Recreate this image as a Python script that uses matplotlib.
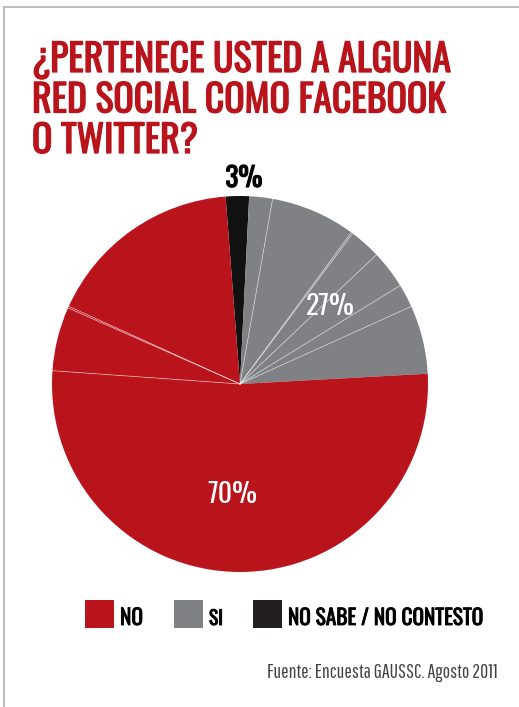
import matplotlib
matplotlib.use("Agg")
import matplotlib.pyplot as plt
import matplotlib.patheffects as pe
from matplotlib.patches import Rectangle
import numpy as np

# sub-slices, clockwise from the top (percent of the whole pie)
ns_parts = [2.0]
si_parts = [2.0, 7.3, 0.15, 2.7, 3.3, 2.0, 5.9]
no_parts = [52.0, 5.5, 0.15, 17.0]

legend_labels = ["NO", "SI", "NO SABE / NO CONTESTO"]
pct_labels = ["70%", "27%", "3%"]
title_lines = ["¿PERTENECE USTED A ALGUNA", "RED SOCIAL COMO FACEBOOK", "O TWITTER?"]
source = "Fuente: Encuesta GAUSSC. Agosto 2011"

RED = "#b9141c"
GRAY = "#808184"
BLACK = "#111111"

COND = ["Oswald", "Antonio", "Barlow Condensed", "DejaVu Sans"]
LIGHT = ["Pathway Gothic One", "Barlow Condensed", "DejaVu Sans"]

W, H = 519, 707
fig = plt.figure(figsize=(W / 100, H / 100), dpi=100)
fig.patch.set_facecolor("white")
renderer = fig.canvas.get_renderer()

# pie
cx, cy, r = 240, 384, 188
pax = fig.add_axes([(cx - r) / W, (H - cy - r) / H, 2 * r / W, 2 * r / H])
values = ns_parts + si_parts + no_parts
colors = [BLACK] * len(ns_parts) + [GRAY] * len(si_parts) + [RED] * len(no_parts)
wedges, _ = pax.pie(values, colors=colors, startangle=94.4, counterclock=False,
                    wedgeprops=dict(linewidth=0))
pax.set_xlim(-1, 1)
pax.set_ylim(-1, 1)
pax.set_aspect("equal")
pax.axis("off")

# thin light lines between sub-slices of the same answer
k = 0
for g in [ns_parts, si_parts, no_parts]:
    for j in range(len(g)):
        if j > 0:
            ang = np.deg2rad(wedges[k].theta2)
            pax.plot([0, np.cos(ang)], [0, np.sin(ang)], color="white",
                     lw=0.6, alpha=0.5)
        k += 1

# overlay in pixel coordinates, drawn above the pie
bg = fig.add_axes([0, 0, 1, 1])
bg.set_xlim(0, W)
bg.set_ylim(H, 0)
bg.axis("off")
bg.set_zorder(5)


def fit(ax, x, y, s, width, size=20, **kw):
    # scale the font so the text spans the given pixel width
    t = ax.text(x, y, s, fontsize=size, **kw)
    w = t.get_window_extent(renderer).width
    t.set_fontsize(size * width / w)
    return t


# frame lines top / left
bg.plot([4, W], [7, 7], color="#b0b0b0", lw=1.2)
bg.plot([4, 4], [7, H], color="#b0b0b0", lw=1.2)

heavy_red = [pe.withStroke(linewidth=0.9, foreground=RED)]
t0 = fit(bg, 32, 72, title_lines[0], 418, color=RED, fontweight="bold",
         family=COND, va="baseline", ha="left", path_effects=heavy_red)
ts = t0.get_fontsize()
for i, line in enumerate(title_lines[1:], start=1):
    bg.text(32, 72 + 40.5 * i, line, color=RED, fontsize=ts, fontweight="bold",
            family=COND, va="baseline", ha="left", path_effects=heavy_red)

lab = dict(family=COND, ha="center", va="baseline")
fit(bg, 232, 503, pct_labels[0], 50, color="white", **lab)
fit(bg, 330, 315, pct_labels[1], 49, color="white", **lab)
fit(bg, 244, 187, pct_labels[2], 37, color="black", fontweight="bold",
    path_effects=[pe.withStroke(linewidth=0.8, foreground="black")], **lab)

# legend
leg_colors = [RED, GRAY, "#231f20"]
leg_x = [85, 174, 253]
leg_w = [23, 14, 195]
heavy_blk = [pe.withStroke(linewidth=0.6, foreground="black")]
for x0, col, lb, lw_ in zip(leg_x, leg_colors, legend_labels, leg_w):
    bg.add_patch(Rectangle((x0, 600), 29, 28, color=col, lw=0))
    fit(bg, x0 + 35, 625, lb, lw_, color="black", family=COND,
        va="baseline", ha="left", path_effects=heavy_blk)

fit(bg, 498, 678, source, 229, color="#444444", family=LIGHT,
    va="baseline", ha="right")

fig.savefig("out.png", dpi=100)
